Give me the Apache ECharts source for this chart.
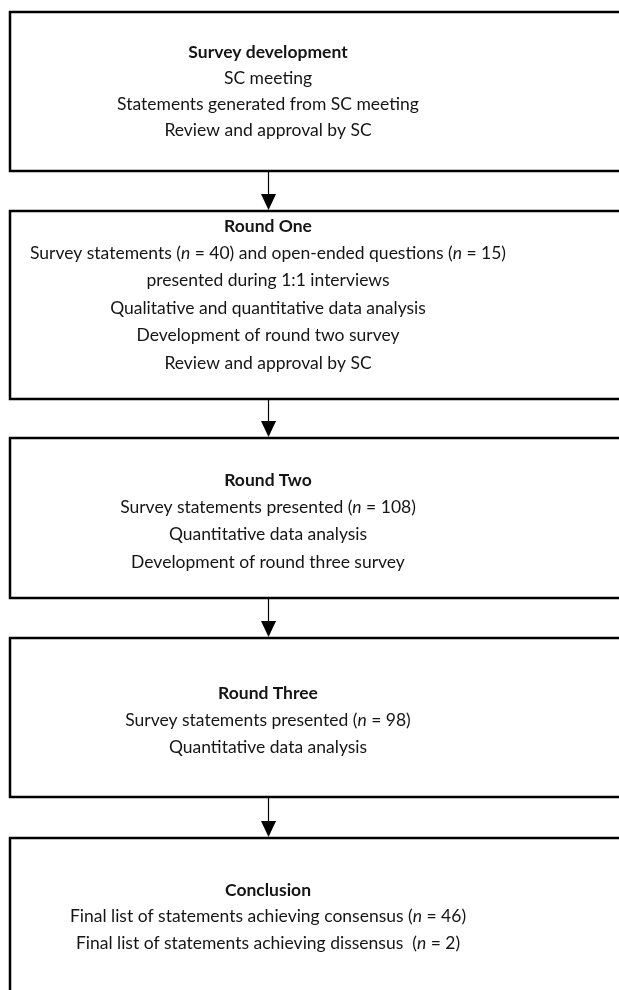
<!DOCTYPE html>
<html>
<head>
<meta charset="utf-8">
<script src="https://cdn.jsdelivr.net/npm/echarts@6/dist/echarts.min.js"></script>
<style>
    html, body {margin: 0; padding: 0; background: #fff;}
    #chart {width: 619px; height: 990px;}
</style>
</head>
<body>
<div id="chart"></div>
<script>
// stage headings and their lines ({i|n} = italic n)
var stageTitles = ['Survey development', 'Round One', 'Round Two', 'Round Three', 'Conclusion'];
var stageLines = [
    ['SC meeting', 'Statements generated from SC meeting', 'Review and approval by SC'],
    ['Survey statements ({i|n} = 40) and open-ended questions ({i|n} = 15)', 'presented during 1:1 interviews',
        'Qualitative and quantitative data analysis', 'Development of round two survey', 'Review and approval by SC'],
    ['Survey statements presented ({i|n} = 108)', 'Quantitative data analysis', 'Development of round three survey'],
    ['Survey statements presented ({i|n} = 98)', 'Quantitative data analysis'],
    ['Final list of statements achieving consensus ({i|n} = 46)', 'Final list of statements achieving dissensus  ({i|n} = 2)']
];
// box extents on the page (y from top)
var boxTop = [12, 211, 438, 638, 838];
var boxBottom = [171, 399, 598, 797, 1020];
var textTop = [52, 226, 480, 693, 890];
var lineGap = [26, 27.4, 27.4, 27, 26.5];

var boxLeft = 10, boxRight = 660, arrowX = 268;
var fontFamily = 'Lato', fontSize = 17.5;

var myChart = echarts.init(document.getElementById('chart'));

var data = [];
for (var i = 0; i < stageTitles.length; i++) {
    data.push([i, boxTop[i], boxBottom[i], textTop[i]]);
}

function renderItem(params, api) {
    var i = api.value(0);
    var tl = api.coord([boxLeft, api.value(1)]);
    var br = api.coord([boxRight, api.value(2)]);
    var children = [{
        type: 'rect',
        shape: {x: tl[0], y: tl[1], width: br[0] - tl[0], height: br[1] - tl[1]},
        style: {fill: '#fff', stroke: '#000', lineWidth: 2.5}
    }];
    var ty = api.coord([arrowX, api.value(3)]);
    var texts = [stageTitles[i]].concat(stageLines[i]);
    for (var k = 0; k < texts.length; k++) {
        children.push({
            type: 'text',
            x: ty[0], y: ty[1] + k * lineGap[i],
            style: {
                text: texts[k],
                x: 0, y: 0,
                align: 'center', verticalAlign: 'middle',
                fontFamily: fontFamily, fontSize: fontSize,
                fontWeight: k === 0 ? 'bold' : 'normal',
                fill: '#151515',
                rich: {i: {fontStyle: 'italic', fontFamily: fontFamily, fontSize: fontSize, fill: '#151515'}}
            }
        });
    }
    if (i < stageTitles.length - 1) {
        var a0 = api.coord([arrowX, api.value(2)]);
        var a1 = api.coord([arrowX, boxTop[i + 1]]);
        children.push({
            type: 'line',
            shape: {x1: a0[0] + 0.5, y1: a0[1], x2: a0[0] + 0.5, y2: a1[1] - 14},
            style: {stroke: '#000', lineWidth: 1.2}
        });
        children.push({
            type: 'polygon',
            shape: {points: [[a1[0] - 7, a1[1] - 17], [a1[0] + 8, a1[1] - 17], [a1[0] + 0.5, a1[1] - 1]]},
            style: {fill: '#000'}
        });
    }
    return {type: 'group', children: children};
}

var option = {
    animation: false,
    grid: {left: 0, right: 0, top: 0, bottom: 0},
    xAxis: {type: 'value', min: 0, max: 619, show: false},
    yAxis: {type: 'value', min: 0, max: 990, inverse: true, show: false},
    series: [{
        type: 'custom',
        renderItem: renderItem,
        clip: false,
        data: data
    }]
};

myChart.setOption(option);
</script>
</body>
</html>
